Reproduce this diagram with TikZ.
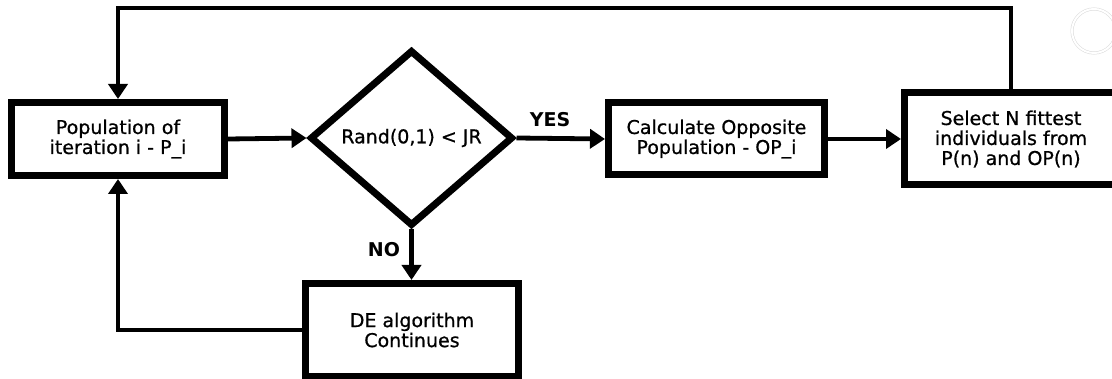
\documentclass[tikz,border=0pt]{standalone}
\usepackage{fontspec}
\setmainfont{DejaVu Sans}
\newfontfamily\labelfont[FakeBold=0.8]{DejaVu Sans}
\usetikzlibrary{shapes.geometric,arrows.meta}
\begin{document}
\begin{tikzpicture}[x=1pt,y=-1pt,
  box/.style={draw, rectangle, line width=7pt, inner sep=0pt, align=center,
    font=\labelfont\fontsize{19}{20}\selectfont},
  decision/.style={draw, diamond, line width=7pt, inner sep=0pt,
    minimum width=203pt, minimum height=176pt, font=\labelfont\fontsize{19}{20}\selectfont},
  link/.style={line width=4.8pt, -{Triangle[length=15pt,width=19pt]}},
  lbl/.style={font=\bfseries\fontsize{19}{20}\selectfont, inner sep=0pt}]
  \useasboundingbox (0,0) rectangle (1112,379);
  \clip (0,0) rectangle (1112,379);
  \fill[white] (0,0) rectangle (1112,379);

  % flowchart nodes
  \node[box, minimum width=213pt, minimum height=73pt] (pop) at (118,139)
    {Population of\\iteration i - P\_i};
  \node[decision] (dec) at (411.5,138) {Rand(0,1) < JR};
  \node[box, minimum width=216pt, minimum height=72pt] (calc) at (716.5,139)
    {Calculate Opposite\\Population - OP\_i};
  \node[box, minimum width=213pt, minimum height=92pt] (sel) at (1011,139)
    {Select N fittest\\individuals from\\P(n) and OP(n)};
  \node[box, minimum width=213pt, minimum height=93pt] (de) at (412,330)
    {DE algorithm\\Continues};

  % branch labels
  \node[lbl] (yes) at (550,120) {YES};
  \node[lbl] (no) at (384,250) {NO};

  % connectors
  \coordinate (top) at (0,8);
  \draw[link] (pop.east) -- (dec.west);
  \draw[link] (dec.east) -- (calc.west);
  \draw[link] (calc.east) -- (sel.west);
  \draw[link] (dec.south) -- (dec.south |- de.north);
  \draw[link] (sel.north) -- (sel.north |- top) -| (pop.north);
  \draw[link] (de.west) -| (pop.south);

  % faint ring in the corner
  \node[circle, draw=gray!30, double=white, double distance=2pt, line width=0.5pt,
    minimum size=44pt, inner sep=0pt] (ring) at (1094,31) {};
\end{tikzpicture}
\end{document}
